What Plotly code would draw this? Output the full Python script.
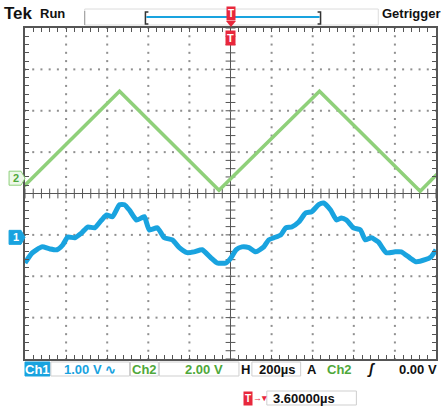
import numpy as np
import plotly.graph_objects as go

# ---- channel settings ----
CH1_SCALE = 1.0    # V/div
CH1_POS = -1.06    # div (ground marker)
CH2_SCALE = 2.0    # V/div
CH2_POS = 0.37     # div
H_SCALE = 200.0    # µs/div

# ---- Ch2: triangle wave, vertices (µs, V) ----
ch2_t = [-1024, -540, -56, 433, 923, 1034]
ch2_v = [-0.58, 4.20, -0.58, 4.20, -0.63, 0.48]

# ---- Ch1: filtered triangle with ripple (µs, V) ----
ch1_t = [-1000, -966, -918, -879, -845, -816, -792, -758, -724, -695, -661,
         -627, -603, -574, -540, -516, -492, -458, -433, -419, -395, -356,
         -322, -283, -249, -211, -177, -138, -94, -65, -22, 2, 27, 56, 90,
         123, 162, 186, 211, 245, 269, 298, 332, 366, 395, 429, 453, 487,
         516, 540, 564, 598, 632, 656, 685, 719, 758, 802, 831, 874, 903,
         947, 976, 1000]
ch1_v = [-0.62, -0.38, -0.23, -0.28, -0.30, -0.18, 0.01, -0.01, 0.11, 0.25,
         0.23, 0.42, 0.54, 0.50, 0.79, 0.79, 0.66, 0.42, 0.47, 0.50, 0.18,
         0.23, -0.01, -0.06, -0.25, -0.37, -0.35, -0.30, -0.50, -0.62, -0.62,
         -0.50, -0.30, -0.23, -0.25, -0.35, -0.23, -0.06, -0.01, 0.06, 0.23,
         0.25, 0.37, 0.59, 0.62, 0.79, 0.83, 0.66, 0.42, 0.47, 0.42, 0.23,
         0.18, -0.06, -0.01, -0.11, -0.37, -0.35, -0.35, -0.50, -0.59, -0.54,
         -0.47, -0.30]

# ---- readout labels ----
ch1_label = "1.00 V ∿"
ch2_label = "2.00 V"
h_label = "200µs"
trig_level = "0.00 V"
trig_pos = "3.60000µs"

BLUE = "#19a3df"
GREEN = "#8fd07a"
GREEN_TXT = "#4fa83a"
RED = "#e8283c"
GRID = "#8f8f8f"
FRAME = "#555555"
FONT = "Liberation Sans"

W, H = 445, 410
L, R, T, B = 25, 438, 28, 359


def px(x):
    return (x - L) / (R - L)


def py(y):
    return (B - y) / (B - T)


fig = go.Figure()

# ---- graticule: dotted division lines ----
minor_x = np.arange(-1000, 1000.1, H_SCALE / 5)
minor_y = np.arange(-4, 4.01, 0.2)
major_x = [x for x in np.arange(-800, 801, H_SCALE) if abs(x) > 1e-9]
major_y = [y for y in np.arange(-3, 3.1, 1.0) if abs(y) > 1e-9]

gx, gy = [], []
for xv in major_x:
    for yv in minor_y:
        gx.append(xv); gy.append(yv)
for yv in major_y:
    for xv in minor_x:
        gx.append(xv); gy.append(yv)
fig.add_trace(go.Scatter(x=gx, y=gy, mode="markers", hoverinfo="skip",
                         marker=dict(size=2, color=GRID, symbol="square"),
                         showlegend=False))

# center cross ticks
fig.add_trace(go.Scatter(x=[0] * len(minor_y), y=minor_y, mode="markers",
                         hoverinfo="skip", showlegend=False,
                         marker=dict(symbol="line-ew", size=7,
                                     line=dict(width=1, color=FRAME))))
fig.add_trace(go.Scatter(x=minor_x, y=[0] * len(minor_x), mode="markers",
                         hoverinfo="skip", showlegend=False,
                         marker=dict(symbol="line-ns", size=7,
                                     line=dict(width=1, color=FRAME))))

# ---- traces ----
fig.add_trace(go.Scatter(
    x=ch2_t, y=[v / CH2_SCALE + CH2_POS for v in ch2_v], mode="lines",
    line=dict(color=GREEN, width=3.5), showlegend=False, hoverinfo="skip"))
fig.add_trace(go.Scatter(
    x=ch1_t, y=[v / CH1_SCALE + CH1_POS for v in ch1_v], mode="lines",
    line=dict(color=BLUE, width=5, shape="spline", smoothing=0.5),
    showlegend=False, hoverinfo="skip"))

shapes = [
    # center lines
    dict(type="line", xref="x", yref="paper", x0=0, x1=0, y0=0, y1=1,
         line=dict(color=FRAME, width=1), layer="below"),
    dict(type="line", xref="paper", yref="y", x0=0, x1=1, y0=0, y1=0,
         line=dict(color=FRAME, width=1), layer="below"),
]

# top status strip
shapes += [
    dict(type="rect", xref="paper", yref="paper", x0=px(85), x1=px(380),
         y0=py(25), y1=py(9), line=dict(color="#dcdcdc", width=1)),
    dict(type="line", xref="paper", yref="paper", x0=px(85), x1=px(85),
         y0=py(25), y1=py(11), line=dict(color="#999999", width=1)),
    dict(type="line", xref="paper", yref="paper", x0=px(147), x1=px(321),
         y0=py(17), y1=py(17), line=dict(color=BLUE, width=2)),
    dict(type="path", xref="paper", yref="paper",
         path=f"M {px(149)},{py(12)} L {px(146)},{py(12)} L {px(146)},{py(24)} L {px(149)},{py(24)}",
         line=dict(color="#333", width=1.5)),
    dict(type="path", xref="paper", yref="paper",
         path=f"M {px(319)},{py(12)} L {px(322)},{py(12)} L {px(322)},{py(24)} L {px(319)},{py(24)}",
         line=dict(color="#333", width=1.5)),
    # trigger marker arrows
    dict(type="path", xref="paper", yref="paper",
         path=f"M {px(227)},{py(21)} L {px(237)},{py(21)} L {px(232)},{py(27)} Z",
         fillcolor=RED, line=dict(color=RED, width=0)),
]


# bottom readout boxes
def box(x0, x1, y0, y1, fill="rgba(0,0,0,0)", color="#cfcfcf"):
    return dict(type="rect", xref="paper", yref="paper", x0=px(x0), x1=px(x1),
                y0=py(y1), y1=py(y0), fillcolor=fill,
                line=dict(color=color, width=1))


shapes += [
    box(25, 50, 362, 376, fill=BLUE, color=BLUE),
    box(51, 130, 362, 376),
    box(131, 159, 362, 376),
    box(160, 240, 362, 376),
    box(253, 302, 362, 376),
    box(268, 358, 391, 405),
]

# ground marker tags (pointing right, into the screen)
for pos, fill, edge in [(CH2_POS, "#eef8ea", GREEN), (CH1_POS, BLUE, BLUE)]:
    yc = B - (pos + 4) / 8 * (B - T)
    shapes.append(dict(
        type="path", xref="paper", yref="paper",
        path=(f"M {px(9)},{py(yc - 7)} L {px(21)},{py(yc - 7)} L {px(25)},{py(yc)} "
              f"L {px(21)},{py(yc + 7)} L {px(9)},{py(yc + 7)} Z"),
        fillcolor=fill, line=dict(color=edge, width=1)))

fig.update_layout(shapes=shapes)


def text(x, y, s, color="#111", size=13, anchor="left", bg=None, border=None):
    fig.add_annotation(xref="paper", yref="paper", x=px(x), y=py(y), text=s,
                       showarrow=False, xanchor=anchor, yanchor="middle",
                       font=dict(family=FONT, size=size, color=color),
                       bgcolor=bg, bordercolor=border,
                       borderpad=0 if bg is None else 1)


# top strip text
text(3, 13, "<b>Tek</b>", size=17)
text(39, 13, "<b>Run</b>", size=13)
text(383, 14, "<b>Getrigger</b>", size=13)
text(232, 13, "<b>T</b>", color="white", size=10, anchor="center", bg=RED)
text(232, 38, "<b>T</b>", color="white", size=11, anchor="center", bg=RED)

# ground marker labels
fig.add_annotation(xref="paper", yref="y", x=px(16), y=CH2_POS, text="<b>2</b>",
                   showarrow=False, xanchor="center", yanchor="middle",
                   font=dict(family=FONT, size=11, color=GREEN_TXT))
fig.add_annotation(xref="paper", yref="y", x=px(16), y=CH1_POS, text="<b>1</b>",
                   showarrow=False, xanchor="center", yanchor="middle",
                   font=dict(family=FONT, size=11, color="white"))

# bottom readouts
text(37.5, 369, "<b>Ch1</b>", color="white", anchor="center")
text(90, 369, "<b>" + ch1_label + "</b>", color=BLUE, anchor="center")
text(145, 369, "<b>Ch2</b>", color=GREEN_TXT, anchor="center")
text(205, 369, "<b>" + ch2_label + "</b>", color=GREEN_TXT, anchor="center")
text(247, 369, "<b>H</b>", anchor="center")
text(278, 369, "<b>" + h_label + "</b>", anchor="center")
text(313, 369, "<b>A</b>", anchor="center")
text(341, 369, "<b>Ch2</b>", color=GREEN_TXT, anchor="center")
text(373, 369, "<b><i>ʃ</i></b>", anchor="center", size=14)
text(440, 369, "<b>" + trig_level + "</b>", anchor="right")
text(249, 398, "<b>T</b>", color="white", size=10, anchor="center", bg=RED)
text(261, 398, "<b>→▾</b>", color=RED, size=9, anchor="center")
text(273, 398, "<b>" + trig_pos + "</b>", anchor="left")

axis_common = dict(showticklabels=False, showgrid=False, zeroline=False,
                   showline=True, linecolor=FRAME, linewidth=2, mirror="ticks",
                   ticks="inside", ticklen=4, tickcolor=FRAME, tickwidth=1,
                   fixedrange=True)
fig.update_xaxes(range=[-1000, 1000], dtick=H_SCALE / 5, tick0=0, **axis_common)
fig.update_yaxes(range=[-4, 4], dtick=0.2, tick0=0, **axis_common)

fig.update_layout(width=W, height=H, autosize=False,
                  margin=dict(l=L, r=W - R, t=T, b=H - B, pad=0),
                  paper_bgcolor="white", plot_bgcolor="white",
                  font=dict(family=FONT))

fig.write_html("out.html", include_plotlyjs=True, full_html=True,
               config=dict(displayModeBar=False))
